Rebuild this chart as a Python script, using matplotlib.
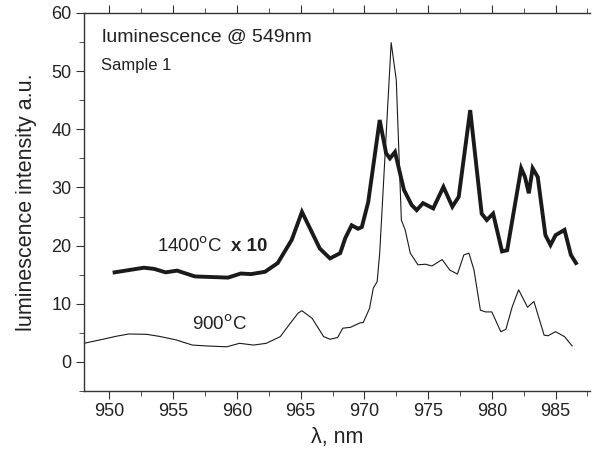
import matplotlib
matplotlib.use("Agg")
import matplotlib.pyplot as plt
from matplotlib.ticker import MultipleLocator

plt.rcParams['font.family'] = ['Liberation Sans', 'DejaVu Sans']

# 1400 C sample (x10)
x_1400 = [950.4, 952.7, 953.5, 954.4, 955.3, 956.7, 959.3, 960.3, 961.1, 962.2, 963.2, 964.3,
          965.1, 966.5, 967.3, 968.1, 968.5, 969.0, 969.5, 969.8, 970.3, 971.2, 971.7, 972.0,
          972.4, 973.1, 973.7, 974.1, 974.6, 975.4, 976.2, 976.9, 977.4, 978.3, 979.2, 979.6,
          980.1, 980.8, 981.2, 982.3, 982.6, 982.9, 983.2, 983.6, 984.2, 984.6, 985.0, 985.7,
          986.2, 986.6]
y_1400 = [15.4, 16.2, 16.0, 15.4, 15.7, 14.7, 14.5, 15.2, 15.1, 15.5, 17.0, 21.0,
          25.8, 19.5, 17.8, 18.7, 21.3, 23.5, 22.9, 23.2, 27.5, 41.6, 35.9, 35.0,
          36.1, 29.6, 27.0, 26.1, 27.3, 26.4, 30.1, 26.7, 28.4, 43.3, 25.5, 24.4,
          25.5, 19.0, 19.2, 33.3, 31.8, 29.0, 33.3, 31.8, 21.8, 20.1, 21.8, 22.7,
          18.4, 17.0]

# 900 C sample
x_900 = [948.0, 949.7, 950.5, 951.5, 952.9, 953.9, 955.2, 956.5, 957.6, 959.2, 960.2, 961.3,
         962.3, 963.4, 964.1, 964.8, 965.1, 965.9, 966.8, 967.3, 967.9, 968.3, 968.9, 969.7,
         969.9, 970.4, 970.7, 971.0, 971.2, 972.1, 972.5, 972.9, 973.2, 973.6, 974.2, 974.8,
         975.3, 976.1, 976.7, 977.3, 977.8, 978.2, 978.6, 979.1, 979.5, 980.0, 980.7, 981.1,
         981.6, 982.1, 982.8, 983.3, 984.1, 984.4, 985.0, 985.7, 986.3]
y_900 = [3.2, 4.0, 4.4, 4.8, 4.75, 4.4, 3.8, 2.9, 2.75, 2.6, 3.2, 2.9,
         3.2, 4.35, 6.4, 8.4, 8.8, 7.5, 4.35, 3.9, 4.2, 5.8, 5.95, 6.75,
         6.75, 9.2, 12.7, 13.8, 18.7, 54.9, 48.5, 24.4, 22.7, 18.7, 16.7, 16.8,
         16.5, 17.6, 15.8, 15.1, 18.4, 18.7, 15.8, 8.9, 8.6, 8.6, 5.2, 5.6,
         9.5, 12.4, 9.4, 10.4, 4.6, 4.5, 5.2, 4.35, 2.75]

fig = plt.figure(figsize=(5.93, 4.57), dpi=100)
ax = fig.add_axes([84 / 593, 66 / 457, (590 - 84) / 593, (391 - 13) / 457])

ax.plot(x_1400, y_1400, color='#1a1a1a', lw=2.8, solid_joinstyle='miter')
ax.plot(x_900, y_900, color='#1a1a1a', lw=0.8)

ax.set_xlim(948.0, 987.7)
ax.set_ylim(-5, 60)
ax.xaxis.set_major_locator(MultipleLocator(5))
ax.xaxis.set_minor_locator(MultipleLocator(2.5))
ax.yaxis.set_major_locator(MultipleLocator(10))
ax.yaxis.set_minor_locator(MultipleLocator(5))

ax.spines['right'].set_visible(False)
for s in ['left', 'bottom', 'top']:
    ax.spines[s].set_color('#333333')
    ax.spines[s].set_linewidth(1.0)

ax.tick_params(axis='both', which='both', direction='out', colors='#333333',
               labelcolor='#222222', labelsize=13)
ax.tick_params(axis='both', which='major', length=6, pad=3)
ax.tick_params(axis='both', which='minor', length=3.5)
ax.tick_params(axis='x', which='both', top=True, labeltop=False)

ax.set_xlabel('λ, nm', fontsize=15.5, color='#222222', labelpad=5)
ax.set_ylabel('luminescence intensity a.u.', fontsize=15.5, color='#222222', labelpad=10)

ax.text(949.4, 55.8, 'luminescence @ 549nm', fontsize=14, color='#222222', va='center')
ax.text(949.3, 50.9, 'Sample 1', fontsize=12, color='#222222', va='center')
ax.text(953.7, 19.8, '1400$^{\\mathrm{o}}$C', fontsize=13.5, color='#222222', va='center')
ax.text(959.5, 19.8, 'x 10', fontsize=13.5, color='#222222', va='center', fontweight='bold')
ax.text(956.5, 6.4, '900$^{\\mathrm{o}}$C', fontsize=13.5, color='#222222', va='center')

fig.savefig('out.png', dpi=100)
